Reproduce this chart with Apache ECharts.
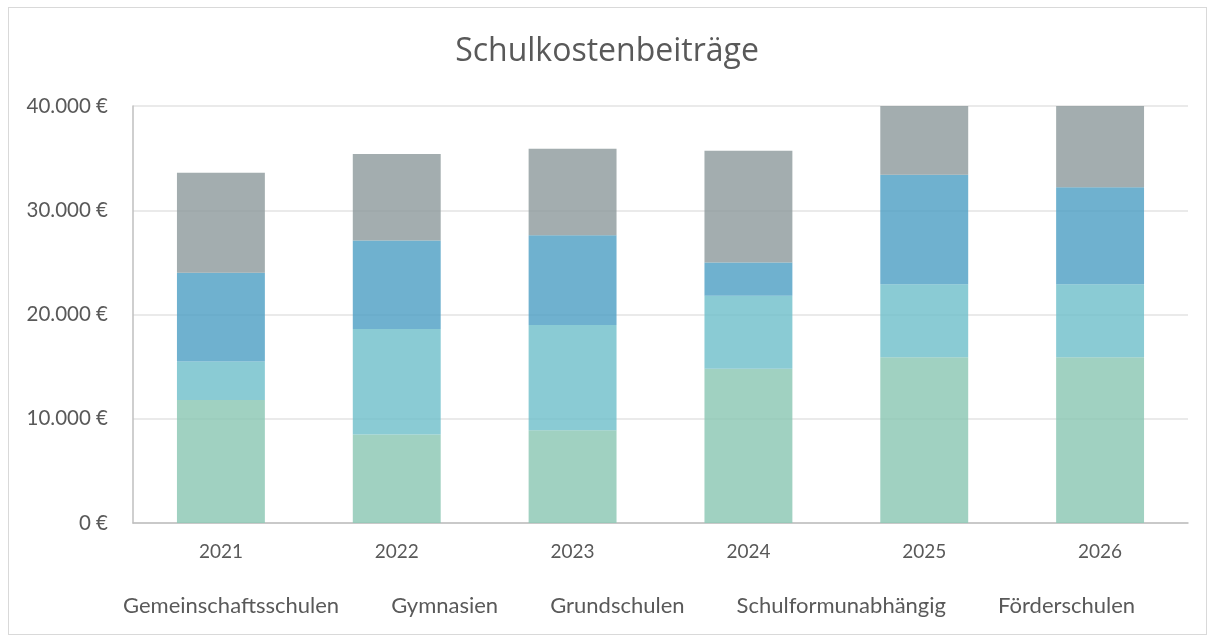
<!DOCTYPE html>
<html>
<head>
<meta charset="utf-8">
<script src="https://cdn.jsdelivr.net/npm/echarts@6/dist/echarts.min.js"></script>
<style>
  html, body { margin: 0; padding: 0; background: #fff; }
  #frame { position: absolute; left: 8px; top: 7px; width: 1197px; height: 626px; border: 1.5px solid #d9d9d9; }
  #chart { position: absolute; left: 0; top: 0; width: 1214px; height: 641px; }
</style>
</head>
<body>
<div id="frame"></div>
<div id="chart"></div>
<script>
const years = ['2021', '2022', '2023', '2024', '2025', '2026']
const seriesNames = ['Gemeinschaftsschulen', 'Gymnasien', 'Grundschulen', 'Schulformunabhängig', 'Förderschulen']

// Werte in Euro
const gemeinschaftsschulen = [11800, 8500, 8900, 14800, 15900, 15900]
const gymnasien = [3700, 10100, 10100, 7000, 7000, 7000]
const grundschulen = [8500, 8500, 8600, 3200, 10500, 9300]
const schulformunabhaengig = [9600, 8300, 8300, 10700, 8000, 9000]
const foerderschulen = [0, 0, 0, 0, 0, 0]

const yTicks = [0, 10000, 20000, 30000, 40000]
const colors = ['#8fc9b6', '#75c2cd', '#56a3c7', '#939fa1', '#7f8c8d']

const font = 'Lato, "Open Sans", sans-serif'
const textColor = '#595959'

const euro = v => v.toLocaleString('de-DE') + ' €'

const chart = echarts.init(document.getElementById('chart'))

const allData = [gemeinschaftsschulen, gymnasien, grundschulen, schulformunabhaengig, foerderschulen]

const option = {
  animation: false,
  color: colors,
  title: {
    text: 'Schulkostenbeiträge',
    left: 'center',
    top: 31,
    textStyle: { fontFamily: '"Open Sans", sans-serif', fontSize: 32, fontWeight: 'normal', color: textColor },
  },
  legend: {
    data: seriesNames,
    bottom: 19,
    left: 113,
    itemWidth: 0,
    itemHeight: 0,
    itemGap: 47,
    textStyle: { fontFamily: font, fontSize: 22, color: textColor },
  },
  grid: { left: 133, right: 26, top: 106, bottom: 118 },
  xAxis: {
    type: 'category',
    data: years,
    axisLine: { lineStyle: { color: '#bfbfbf', width: 1.5 } },
    axisTick: { show: false },
    axisLabel: { fontFamily: font, fontSize: 19, color: textColor, margin: 19 },
  },
  yAxis: {
    type: 'value',
    min: yTicks[0],
    max: yTicks[yTicks.length - 1],
    interval: 10000,
    axisLine: { show: true, lineStyle: { color: '#bfbfbf', width: 1.5 } },
    axisTick: { show: false },
    splitLine: { lineStyle: { color: '#e3e3e3', width: 1.5 } },
    axisLabel: { fontFamily: font, fontSize: 20.5, color: textColor, margin: 25, formatter: euro },
  },
  series: seriesNames.map((name, i) => ({
    name,
    type: 'bar',
    stack: 'total',
    barWidth: '50%',
    data: allData[i],
    itemStyle: { opacity: 0.85 },
  })),
}

chart.setOption(option)
</script>
</body>
</html>
